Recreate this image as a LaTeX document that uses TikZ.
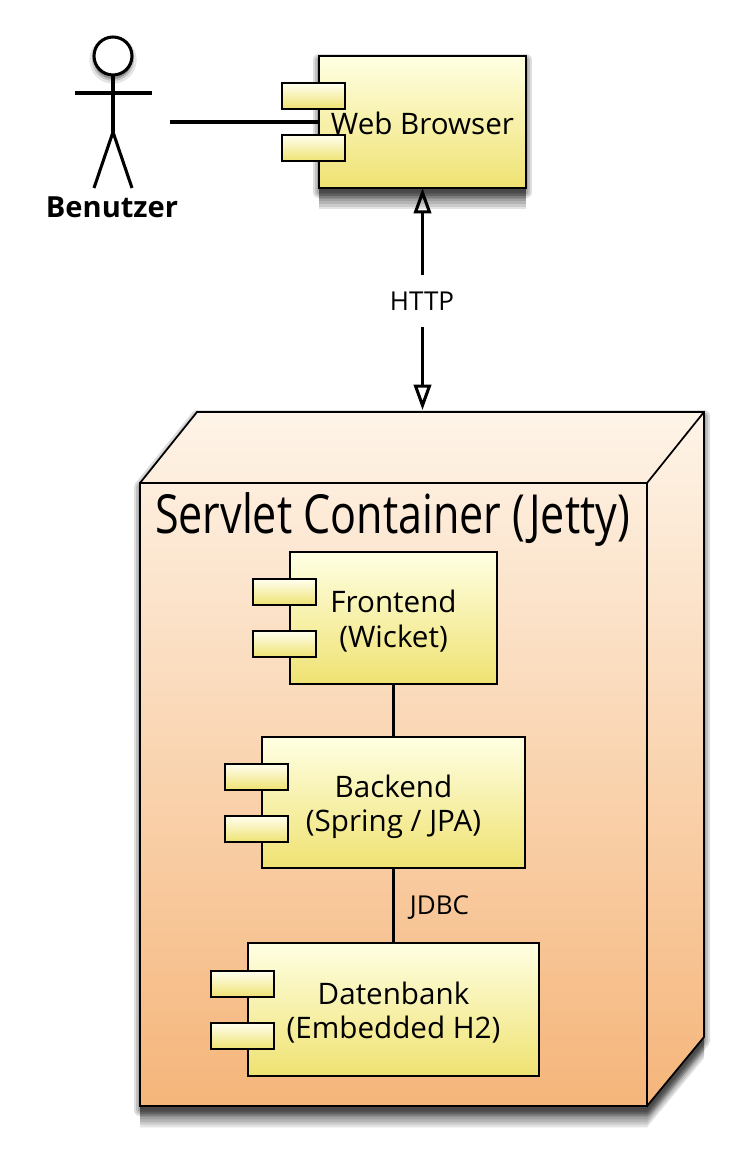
\documentclass[tikz,border=0pt]{standalone}
\usepackage{fontspec}
\setmainfont{Open Sans}
\newfontfamily\titlefont[FakeStretch=0.8]{Open Sans}
\usetikzlibrary{arrows.meta}

\tikzset{
	softlayer/.style={preaction={draw=none,fill=black,fill opacity=0.11,transform canvas={yshift=-#1}}},
	softedge/.style={preaction={draw=black,draw opacity=0.13,fill=none,line width=#1,line join=round,transform canvas={yshift=-3pt}}},
	softshadow/.style={
		softedge=9pt,softedge=6pt,softedge=3pt,
		softlayer=2pt,softlayer=4pt,softlayer=6pt,softlayer=8pt,
		softlayer=10pt,softlayer=12pt,softlayer=14pt,softlayer=16pt},
	component/.style={draw=black,line width=1.3pt,top color=yellow!11!white,bottom color=compyellow,
		inner sep=0pt,outer sep=0pt,align=center,font=\fontsize{22.2}{26}\selectfont},
	twolines/.style={text height=44pt,text depth=0pt},
	portbox/.style={draw=black,line width=1.3pt,top color=yellow!6!white,bottom color=compyellow,
		inner sep=0pt,outer sep=0pt,anchor=north west,minimum width=47.25pt,minimum height=19.5pt},
	link/.style={draw=black,line width=2.6pt},
	openhead/.style={-{Triangle[open,length=19pt,width=13pt,line width=2.3pt]}},
	limb/.style={draw=black,line width=2.3pt},
	smalllabel/.style={font=\fontsize{19.5}{22}\selectfont,inner sep=0pt}
}
\definecolor{compyellow}{RGB}{239,226,114}
\definecolor{nodetop}{RGB}{254,244,232}
\definecolor{nodebottom}{RGB}{245,181,122}

\begin{document}
\begin{tikzpicture}[x=0.75pt,y=0.75pt,yscale=-1,xscale=1]
	\useasboundingbox (0,0) rectangle (743,1156);

	% Deployment node
	\path [softshadow,draw=black,line width=1.3pt,line join=miter,top color=nodetop,bottom color=nodebottom]
		(140,483) -- (197,412) -- (704,412) -- (704,1037) -- (647,1106) -- (140,1106) -- cycle ;
	\node (container) [draw=black,line width=1.3pt,inner sep=0pt,outer sep=0pt,anchor=north west,minimum width=380.25pt,minimum height=467.25pt] at (140,483) {};
	\coordinate (backcorner) at (704,412);
	\coordinate (containertop) at (422.5,410);
	\draw [line width=1.3pt] (container.north east) -- (backcorner) ;
	% Text Node
	\node (title) [anchor=base,inner sep=0pt,font=\fontsize{40.4}{44}\titlefont] at (392.5,533) {Servlet Container (Jetty)};

	% Web browser
	\node (browser) [component,softshadow,text height=18.5pt,minimum width=155.25pt,minimum height=99pt] at (422.5,122) {Web Browser};
	\node (browserportA) [portbox] at (282,83) {};
	\node (browserportB) [portbox] at (282,135) {};

	% Frontend
	\node (frontend) [component,twolines,minimum width=155.25pt,minimum height=99pt] at (393.5,618) {Frontend\\(Wicket)};
	\node (frontendportA) [portbox] at (253,579) {};
	\node (frontendportB) [portbox] at (253,631) {};

	% Backend
	\node (backend) [component,twolines,minimum width=197.25pt,minimum height=98.25pt] at (393.5,802.5) {Backend\\(Spring / JPA)};
	\node (backendportA) [portbox] at (225,764) {};
	\node (backendportB) [portbox] at (225,816) {};

	% Database
	\node (database) [component,twolines,minimum width=218.25pt,minimum height=99.75pt] at (393.5,1009.5) {Datenbank\\(Embedded H2)};
	\node (databaseportA) [portbox] at (211,971) {};
	\node (databaseportB) [portbox] at (211,1023) {};

	% Actor
	\node (head) [circle,draw=black,line width=2.3pt,fill=white,inner sep=0pt,outer sep=0pt,minimum size=28.5pt,
		preaction={draw=black,fill=black,opacity=0.10,line width=7pt,transform canvas={yshift=-3pt}},
		preaction={draw=black,fill=black,opacity=0.15,line width=3pt,transform canvas={yshift=-3pt}}] at (113,56) {};
	\coordinate (hip) at (113,132);
	\coordinate (armleft) at (75,93);
	\coordinate (armright) at (152,93);
	\coordinate (footleft) at (94,188);
	\coordinate (footright) at (132,188);
	\draw [limb] (head) -- (hip) ;
	\draw [limb] (armleft) -- (armright) ;
	\draw [limb] (footleft) -- (hip) -- (footright) ;
	\node (benutzer) [inner sep=0pt,font=\fontsize{21.8}{24}\selectfont\bfseries] at (112,207) {Benutzer};
	\coordinate (actorside) at (170,122);

	% Text Node
	\node (http) [smalllabel,minimum height=39pt] at (422,301) {HTTP};
	\node (jdbc) [smalllabel] at (439.5,908) {JDBC};

	% Connection
	\draw [link] (actorside) -- (browser.west) ;
	\draw [link,openhead] (http.north -| browser.south) -- (browser.south) ;
	\draw [link,openhead] (http.south -| containertop) -- (containertop) ;
	\draw [link] (frontend) -- (backend) ;
	\draw [link] (backend) -- (database) ;

\end{tikzpicture}
\end{document}
